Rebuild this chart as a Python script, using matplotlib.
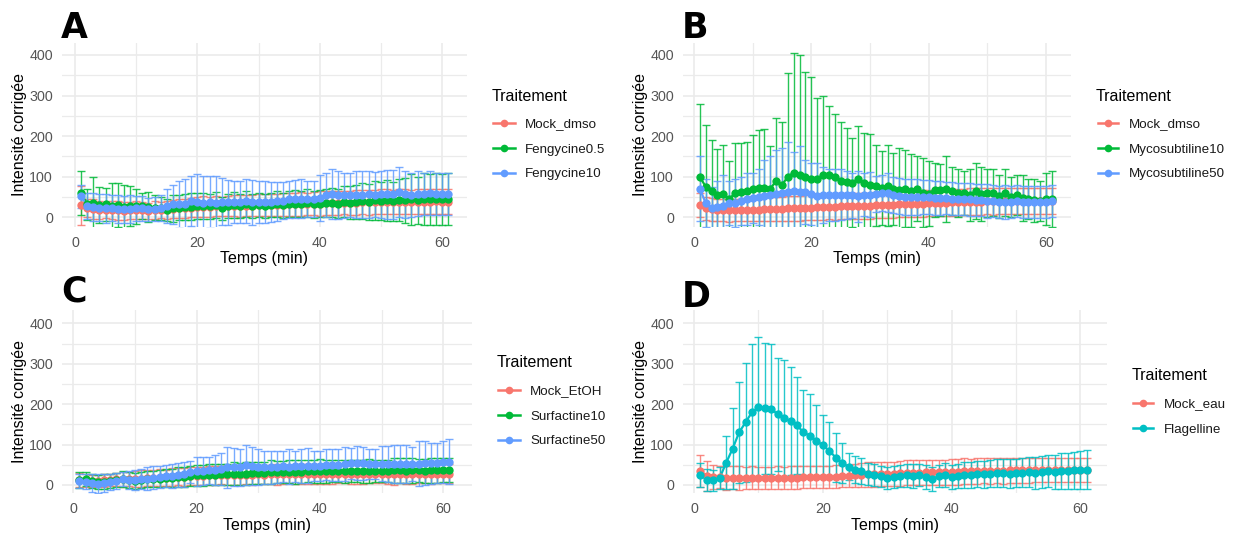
import numpy as np
import matplotlib
matplotlib.use("Agg")
import matplotlib.pyplot as plt
from matplotlib.lines import Line2D

plt.rcParams['font.family'] = ['Liberation Sans', 'DejaVu Sans']

# Time points (min)
temps = list(range(1, 62))

# --- A : Fengycine ---
a_mock_mean = [30, 22, 20, 18, 18, 17, 17, 16, 17, 18,
               17, 16, 17, 18, 18, 20, 22, 22, 24, 25,
               26, 26, 27, 27, 28, 28, 28, 29, 29, 30,
               30, 30, 31, 31, 32, 32, 33, 33, 34, 34,
               35, 35, 35, 36, 36, 36, 37, 37, 37, 38,
               38, 37, 38, 38, 37, 38, 38, 38, 39, 38,
               38]
a_mock_sd = [48, 22, 24, 22, 20, 22, 24, 22, 20, 22,
             20, 20, 22, 20, 22, 22, 24, 24, 24, 25,
             26, 25, 25, 24, 25, 26, 27, 26, 27, 28,
             27, 28, 27, 28, 29, 28, 29, 28, 29, 30,
             30, 29, 30, 29, 30, 31, 30, 31, 30, 31,
             31, 30, 31, 31, 30, 31, 31, 31, 30, 31,
             31]
a_feng05_mean = [60, 32, 35, 30, 32, 28, 30, 26, 28, 27,
                 28, 25, 24, 22, 18, 22, 24, 25, 26, 27,
                 28, 27, 30, 22, 28, 30, 28, 32, 28, 30,
                 28, 30, 32, 30, 33, 34, 33, 35, 32, 34,
                 35, 36, 34, 38, 36, 38, 40, 38, 42, 40,
                 42, 40, 43, 42, 44, 42, 45, 44, 45, 44,
                 46]
a_feng05_sd = [55, 38, 65, 45, 40, 57, 55, 54, 50, 43,
               32, 37, 31, 28, 27, 33, 30, 32, 33, 32,
               32, 30, 32, 28, 30, 32, 30, 32, 30, 30,
               30, 30, 32, 31, 32, 33, 32, 34, 33, 34,
               35, 36, 35, 38, 40, 42, 45, 44, 48, 46,
               50, 48, 52, 55, 62, 58, 65, 62, 64, 62,
               64]
a_feng10_mean = [52, 28, 25, 24, 22, 22, 20, 20, 20, 22,
                 22, 20, 20, 22, 28, 32, 32, 33, 40, 38,
                 36, 38, 36, 38, 37, 38, 38, 40, 37, 37,
                 38, 38, 40, 41, 44, 45, 46, 45, 45, 48,
                 55, 57, 55, 54, 55, 56, 56, 57, 56, 57,
                 57, 57, 62, 57, 55, 58, 57, 60, 58, 58,
                 58]
a_feng10_sd = [28, 32, 35, 33, 35, 32, 34, 33, 35, 30,
               30, 28, 30, 32, 42, 48, 58, 62, 62, 68,
               66, 65, 66, 58, 55, 52, 52, 54, 55, 52,
               52, 50, 48, 46, 45, 46, 48, 45, 45, 56,
               55, 62, 58, 55, 54, 57, 58, 58, 56, 58,
               60, 60, 62, 58, 55, 55, 52, 54, 52, 52,
               52]

# --- B : Mycosubtiline ---
b_mock_mean = [30, 22, 20, 18, 18, 17, 17, 18, 18, 18,
               18, 20, 20, 21, 21, 22, 22, 22, 24, 24,
               25, 26, 26, 26, 27, 27, 28, 28, 28, 29,
               30, 30, 30, 31, 32, 32, 33, 33, 34, 35,
               35, 36, 36, 37, 37, 38, 38, 38, 38, 39,
               39, 39, 40, 40, 40, 40, 40, 40, 40, 40,
               40]
b_mock_sd = [30, 28, 28, 27, 28, 28, 27, 28, 28, 28,
             28, 30, 29, 30, 30, 30, 30, 30, 30, 31,
             31, 32, 31, 32, 32, 31, 32, 32, 32, 32,
             32, 32, 32, 32, 32, 32, 33, 32, 33, 33,
             33, 33, 33, 33, 33, 32, 33, 33, 33, 32,
             33, 32, 33, 32, 33, 32, 33, 32, 33, 32,
             33]
b_myco10_mean = [100, 75, 65, 55, 58, 45, 60, 62, 65, 70,
                 72, 72, 70, 90, 80, 100, 110, 105, 100, 95,
                 95, 105, 105, 100, 90, 88, 85, 95, 85, 80,
                 78, 72, 78, 70, 68, 70, 65, 70, 60, 58,
                 68, 68, 70, 65, 60, 60, 55, 65, 58, 60,
                 60, 52, 60, 50, 55, 48, 45, 42, 40, 45,
                 45]
b_myco10_sd = [180, 153, 125, 113, 120, 93, 123, 122, 120, 133,
               143, 146, 105, 155, 155, 255, 295, 295, 258, 250,
               200, 195, 170, 155, 145, 132, 110, 130, 123, 125,
               100, 91, 100, 88, 102, 95, 90, 80, 85, 80,
               67, 64, 82, 60, 60, 55, 63, 68, 67, 60,
               58, 53, 58, 50, 50, 57, 50, 53, 50, 65,
               68]
b_myco50_mean = [70, 35, 22, 25, 28, 35, 35, 40, 45, 48,
                 50, 52, 55, 58, 60, 63, 65, 63, 62, 58,
                 52, 55, 55, 56, 56, 55, 54, 52, 55, 56,
                 58, 60, 60, 55, 52, 50, 50, 50, 50, 50,
                 48, 48, 47, 46, 45, 45, 44, 43, 42, 40,
                 40, 38, 38, 38, 40, 38, 38, 38, 38, 38,
                 40]
b_myco50_sd = [80, 60, 53, 65, 77, 55, 60, 60, 65, 62,
               70, 88, 95, 107, 110, 122, 95, 112, 78, 77,
               83, 70, 65, 64, 62, 60, 56, 63, 53, 56,
               45, 45, 48, 45, 45, 45, 44, 44, 42, 42,
               42, 42, 40, 41, 40, 40, 41, 40, 40, 41,
               40, 40, 41, 40, 40, 39, 40, 40, 39, 40,
               40]

# --- C : Surfactine ---
c_mock_mean = [12, 12, 10, 10, 12, 12, 14, 14, 15, 15,
               16, 17, 18, 18, 18, 19, 20, 20, 22, 22,
               22, 24, 24, 24, 25, 24, 25, 25, 24, 26,
               25, 26, 26, 26, 27, 26, 27, 27, 26, 27,
               28, 27, 27, 28, 28, 27, 28, 28, 27, 28,
               28, 27, 28, 28, 27, 28, 28, 27, 28, 28,
               28]
c_mock_sd = [18, 16, 15, 15, 16, 15, 16, 18, 18, 20,
             20, 19, 20, 21, 20, 22, 21, 22, 22, 23,
             22, 24, 23, 22, 24, 23, 24, 22, 23, 24,
             23, 24, 25, 24, 23, 24, 25, 24, 23, 24,
             25, 24, 23, 24, 25, 24, 25, 24, 23, 24,
             25, 26, 24, 25, 24, 23, 24, 25, 24, 23,
             24]
c_surf10_mean = [12, 15, 10, 8, 8, 10, 12, 14, 12, 10,
                 13, 15, 15, 16, 18, 18, 20, 20, 22, 24,
                 24, 25, 25, 26, 26, 28, 27, 28, 30, 30,
                 30, 32, 32, 32, 33, 32, 33, 34, 34, 35,
                 34, 35, 35, 34, 35, 35, 34, 35, 35, 34,
                 35, 36, 36, 35, 36, 36, 35, 36, 36, 37,
                 37]
c_surf10_sd = [20, 18, 18, 17, 18, 18, 18, 20, 20, 20,
               20, 20, 20, 22, 22, 22, 24, 24, 25, 26,
               26, 26, 26, 27, 27, 28, 28, 28, 28, 28,
               28, 29, 28, 27, 28, 29, 28, 27, 28, 29,
               28, 27, 28, 29, 28, 27, 28, 29, 28, 27,
               28, 30, 30, 31, 30, 29, 30, 31, 30, 29,
               30]
c_surf50_mean = [10, 8, 5, 3, 5, 8, 10, 15, 13, 12,
                 15, 16, 18, 20, 22, 22, 24, 26, 32, 34,
                 35, 36, 38, 40, 44, 45, 44, 50, 48, 45,
                 44, 44, 45, 46, 45, 46, 47, 48, 48, 48,
                 50, 50, 50, 52, 54, 55, 54, 53, 52, 53,
                 52, 52, 52, 52, 53, 53, 54, 54, 55, 57,
                 58]
c_surf50_sd = [18, 18, 22, 24, 22, 20, 20, 18, 22, 25,
               25, 28, 28, 28, 28, 30, 30, 30, 28, 36,
               35, 34, 37, 40, 51, 47, 46, 50, 47, 45,
               41, 41, 40, 39, 43, 39, 43, 44, 37, 37,
               38, 40, 40, 43, 38, 42, 41, 37, 36, 44,
               45, 48, 48, 46, 42, 55, 54, 51, 50, 51,
               55]

# --- D : Flagelline ---
d_mock_mean = [35, 22, 20, 20, 18, 18, 18, 17, 18, 18,
               17, 18, 18, 18, 18, 18, 19, 20, 20, 20,
               20, 21, 22, 22, 24, 25, 26, 26, 27, 28,
               28, 29, 30, 30, 30, 31, 31, 32, 32, 33,
               33, 34, 34, 34, 35, 35, 35, 35, 36, 36,
               36, 36, 37, 37, 37, 37, 37, 38, 38, 38,
               38]
d_mock_sd = [40, 38, 30, 28, 30, 28, 30, 28, 28, 27,
             28, 27, 28, 27, 28, 28, 27, 28, 28, 28,
             28, 28, 28, 28, 29, 29, 30, 30, 30, 30,
             30, 31, 31, 31, 31, 31, 30, 31, 31, 32,
             32, 32, 31, 32, 31, 32, 31, 32, 31, 30,
             30, 30, 30, 30, 30, 30, 30, 30, 30, 30,
             30]
d_flag_mean = [25, 12, 12, 18, 55, 90, 130, 155, 180, 192,
               190, 188, 175, 165, 158, 148, 130, 122, 110, 98,
               85, 68, 55, 45, 38, 35, 28, 25, 22, 18,
               20, 22, 24, 22, 25, 20, 15, 22, 24, 20,
               22, 25, 25, 28, 26, 28, 30, 30, 28, 30,
               30, 32, 30, 32, 34, 33, 34, 35, 36, 37,
               38]
d_flag_sd = [30, 28, 26, 27, 65, 100, 125, 147, 168, 173,
             162, 162, 140, 145, 134, 120, 105, 103, 88, 74,
             70, 60, 50, 33, 34, 33, 27, 27, 26, 27,
             28, 27, 28, 30, 28, 30, 30, 28, 30, 30,
             30, 32, 32, 32, 34, 34, 35, 35, 36, 35,
             36, 38, 40, 40, 40, 42, 44, 44, 45, 46,
             48]

RED, GREEN, BLUE, CYAN = '#F8766D', '#00BA38', '#619CFF', '#00BFC4'

W, H = 1235, 536
fig = plt.figure(figsize=(W / 100, H / 100), dpi=100)


def fx(px):
    return px / W


def fy(py):
    return 1 - py / H


def make_panel(box, x0, sx, y0, sy):
    # box in pixels (left, top, right, bottom); x0/y0 = pixel of value 0, sx/sy = pixels per unit
    left, top, right, bottom = box
    ax = fig.add_axes([fx(left), fy(bottom), (right - left) / W, (bottom - top) / H])
    ax.set_xlim((left - x0) / sx, (right - x0) / sx)
    ax.set_ylim((y0 - bottom) / sy, (y0 - top) / sy)
    ax.set_xticks([0, 20, 40, 60])
    ax.set_xticks([10, 30, 50], minor=True)
    ax.set_yticks([0, 100, 200, 300, 400])
    ax.set_yticks([50, 150, 250, 350], minor=True)
    ax.grid(which='major', color='#EBEBEB', lw=1.2)
    ax.grid(which='minor', color='#EBEBEB', lw=0.9)
    ax.set_axisbelow(True)
    for s in ax.spines.values():
        s.set_visible(False)
    ax.tick_params(which='both', length=0, labelsize=10.3, labelcolor='#555555', pad=6.5)
    return ax


def draw_series(ax, series):
    # ggplot layer order: error bars, then lines, then points
    for label, color, mean, sd in series:
        ax.errorbar(temps, mean, yerr=sd, fmt='none', ecolor=color, alpha=0.85,
                    elinewidth=1.0, capsize=2.6, capthick=1.0, zorder=2)
    for label, color, mean, sd in series:
        ax.plot(temps, mean, color=color, lw=1.6, zorder=3)
    for label, color, mean, sd in series:
        ax.plot(temps, mean, 'o', color=color, ms=6, mec='none', zorder=4)


def draw_labels(box, ylab_x, xlab_base):
    left, top, right, bottom = box
    fig.text(fx(ylab_x), fy((top + bottom) / 2), 'Intensité corrigée', rotation=90,
             ha='center', va='center', fontsize=11.5, color='black')
    fig.text(fx((left + right) / 2), fy(xlab_base), 'Temps (min)',
             ha='center', va='baseline', fontsize=11.5, color='black')


def draw_legend(tx, tbase, k0, k1, txt_x, rows, series):
    fig.text(fx(tx), fy(tbase), 'Traitement', ha='left', va='baseline',
             fontsize=11.5, color='black')
    for (label, color, mean, sd), ry in zip(series, rows):
        fig.add_artist(Line2D([fx(k0), fx(k1)], [fy(ry), fy(ry)], color=color, lw=1.8,
                              transform=fig.transFigure))
        fig.add_artist(Line2D([fx((k0 + k1) / 2)], [fy(ry)], marker='o', ms=5.5,
                              color=color, mec='none', transform=fig.transFigure))
        fig.text(fx(txt_x), fy(ry + 4.5), label, ha='left', va='baseline',
                 fontsize=9.6, color='#1A1A1A')


panels = [
    dict(letter='A', box=(62, 43, 467, 227), x0=75, sx=6.117, y0=217.3, sy=0.4058,
         letter_pos=(61, 38), ylab_x=20, xlab_base=263,
         legend=(492, 101, 493, 515, 525, [123, 148, 173]),
         series=[('Mock_dmso', RED, a_mock_mean, a_mock_sd),
                 ('Fengycine0.5', GREEN, a_feng05_mean, a_feng05_sd),
                 ('Fengycine10', BLUE, a_feng10_mean, a_feng10_sd)]),
    dict(letter='B', box=(683, 43, 1071, 227), x0=694, sx=5.867, y0=217.3, sy=0.4058,
         letter_pos=(682, 38), ylab_x=640, xlab_base=263,
         legend=(1096, 101, 1098, 1118, 1129, [123, 148, 173]),
         series=[('Mock_dmso', RED, b_mock_mean, b_mock_sd),
                 ('Mycosubtiline10', GREEN, b_myco10_mean, b_myco10_sd),
                 ('Mycosubtiline50', BLUE, b_myco50_mean, b_myco50_sd)]),
    dict(letter='C', box=(62, 310, 472, 493), x0=73.3, sx=6.167, y0=485, sy=0.4042,
         letter_pos=(61, 302), ylab_x=20, xlab_base=530,
         legend=(497, 367, 498, 520, 530, [390, 415, 440]),
         series=[('Mock_EtOH', RED, c_mock_mean, c_mock_sd),
                 ('Surfactine10', GREEN, c_surf10_mean, c_surf10_sd),
                 ('Surfactine50', BLUE, c_surf50_mean, c_surf50_sd)]),
    dict(letter='D', box=(683, 310, 1107, 493), x0=694, sx=6.44, y0=485, sy=0.4042,
         letter_pos=(682, 307), ylab_x=640, xlab_base=530,
         legend=(1132, 380, 1133, 1153, 1164, [403, 428]),
         series=[('Mock_eau', RED, d_mock_mean, d_mock_sd),
                 ('Flagelline', CYAN, d_flag_mean, d_flag_sd)]),
]

for p in panels:
    ax = make_panel(p['box'], p['x0'], p['sx'], p['y0'], p['sy'])
    draw_series(ax, p['series'])
    draw_labels(p['box'], p['ylab_x'], p['xlab_base'])
    draw_legend(*p['legend'], p['series'])
    lx, ly = p['letter_pos']
    fig.text(fx(lx), fy(ly), p['letter'], ha='left', va='baseline',
             fontsize=25, fontweight='bold', family='DejaVu Sans', color='black')

fig.savefig('out.png', dpi=100)
